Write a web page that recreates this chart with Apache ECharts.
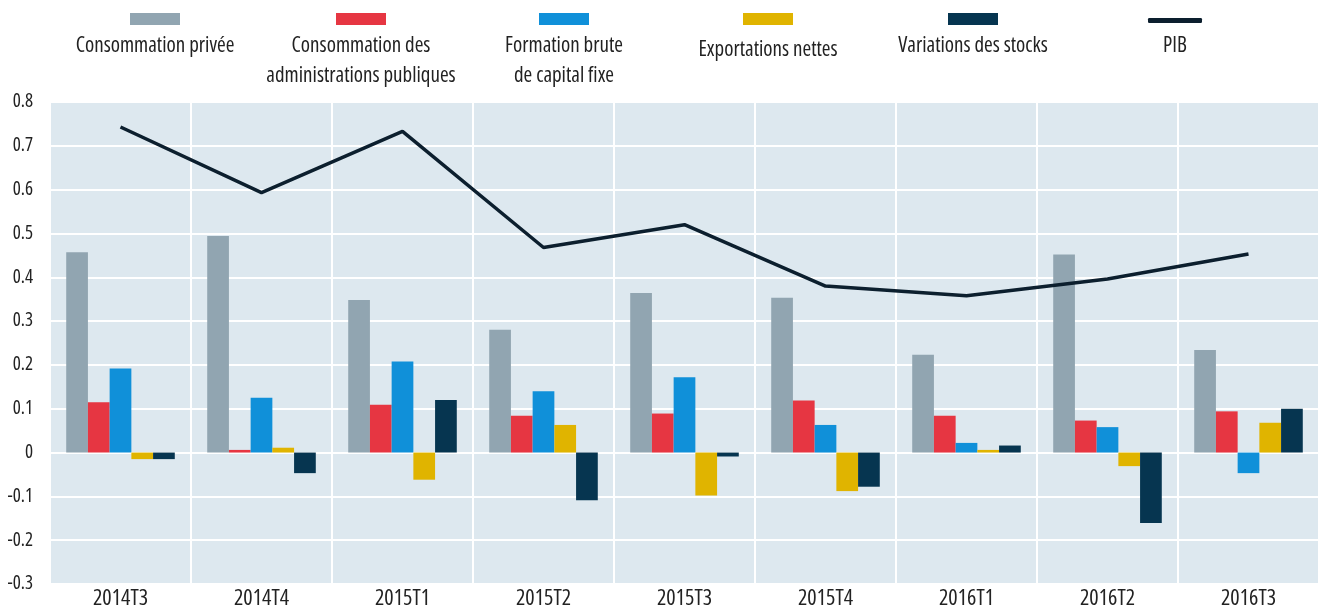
<!DOCTYPE html>
<html>
<head>
<meta charset="utf-8">
<script src="https://cdn.jsdelivr.net/npm/echarts@6/dist/echarts.min.js"></script>
<style>
  html, body { margin: 0; padding: 0; background: #fff; }
  #chart { width: 1320px; height: 611px; }
</style>
</head>
<body>
<div id="chart"></div>
<script>
const categories = ['2014T3', '2014T4', '2015T1', '2015T2', '2015T3', '2015T4', '2016T1', '2016T2', '2016T3']

const consoPrivee = [0.457, 0.494, 0.348, 0.280, 0.364, 0.353, 0.223, 0.452, 0.234]
const consoAdmin = [0.115, 0.006, 0.109, 0.084, 0.089, 0.119, 0.084, 0.073, 0.094]
const fbcf = [0.192, 0.125, 0.208, 0.140, 0.172, 0.063, 0.022, 0.058, -0.047]
const exportsNettes = [-0.015, 0.011, -0.062, 0.063, -0.098, -0.088, 0.006, -0.031, 0.068]
const stocks = [-0.015, -0.047, 0.120, -0.109, -0.009, -0.078, 0.016, -0.161, 0.100]
const pib = [0.743, 0.593, 0.733, 0.468, 0.520, 0.380, 0.358, 0.396, 0.453]

// Open Sans is a variable font here: "condensed" squeezes it like the original narrow face
const font = "'Open Sans'"
const narrow = 'normal condensed'
const textColor = '#222'

// legend: icon on top, label centered underneath
const legendItems = [
  { name: 'Consommation privée', label: 'Consommation privée', cx: 155, ty: 31 },
  { name: 'Consommation des administrations publiques', label: 'Consommation des\nadministrations publiques', cx: 361, ty: 31 },
  { name: 'Formation brute de capital fixe', label: 'Formation brute\nde capital fixe', cx: 564, ty: 31 },
  { name: 'Exportations nettes', label: 'Exportations nettes', cx: 768, ty: 35 },
  { name: 'Variations des stocks', label: 'Variations des stocks', cx: 973, ty: 31 },
  { name: 'PIB', label: 'PIB', cx: 1175, ty: 31 }
]

const barSeries = [
  { name: legendItems[0].name, data: consoPrivee, color: '#91a5b1' },
  { name: legendItems[1].name, data: consoAdmin, color: '#e63642' },
  { name: legendItems[2].name, data: fbcf, color: '#1090d9' },
  { name: legendItems[3].name, data: exportsNettes, color: '#e0b400' },
  { name: legendItems[4].name, data: stocks, color: '#063550' }
]

const chart = echarts.init(document.getElementById('chart'))

const option = {
  animation: false,
  textStyle: { fontFamily: font },
  legend: legendItems.map((it, i) => {
    const isLine = i === 5
    return {
      data: [it.name],
      left: it.cx - (isLine ? 27 : 25),
      top: isLine ? 18 : 13,
      padding: 0,
      itemWidth: isLine ? 54 : 50,
      itemHeight: isLine ? 5 : 12,
      icon: isLine ? 'roundRect' : 'rect',
      selectedMode: false,
      formatter: () => '',
      textStyle: { fontSize: 1 }
    }
  }),
  graphic: legendItems.map(it => ({
    type: 'text',
    x: it.cx,
    y: it.ty,
    style: {
      text: it.label,
      fontFamily: font,
      fontStyle: 'normal',
      fontWeight: narrow,
      fontSize: 21,
      lineHeight: 30,
      fill: textColor,
      align: 'center',
      verticalAlign: 'top'
    }
  })),
  grid: {
    left: 50,
    right: 1,
    top: 102,
    bottom: 27,
    show: true,
    backgroundColor: '#dde8ef',
    borderWidth: 0
  },
  xAxis: {
    type: 'category',
    data: categories,
    axisLine: { show: false },
    axisTick: { show: false },
    axisLabel: {
      fontSize: 22,
      color: textColor,
      margin: 4,
      fontFamily: font,
      fontStyle: 'normal',
      fontWeight: narrow
    },
    splitLine: { show: true, lineStyle: { color: '#fff', width: 2 } }
  },
  yAxis: {
    type: 'value',
    min: -0.3,
    max: 0.8,
    interval: 0.1,
    axisLine: { show: false },
    axisTick: { show: false },
    axisLabel: {
      fontSize: 19,
      color: textColor,
      margin: 17,
      fontFamily: font,
      fontStyle: 'normal',
      fontWeight: narrow,
      formatter: v => String(Math.round(v * 10) / 10)
    },
    splitLine: { lineStyle: { color: '#fff', width: 2 } }
  },
  series: [
    ...barSeries.map(s => ({
      name: s.name,
      type: 'bar',
      data: s.data,
      barGap: '0%',
      barCategoryGap: '23%',
      itemStyle: { color: s.color }
    })),
    {
      name: 'PIB',
      type: 'line',
      data: pib,
      symbol: 'none',
      lineStyle: { color: '#0c1f2e', width: 3.5 },
      itemStyle: { color: '#0c1f2e' },
      z: 5
    }
  ]
}

chart.setOption(option)
</script>
</body>
</html>
